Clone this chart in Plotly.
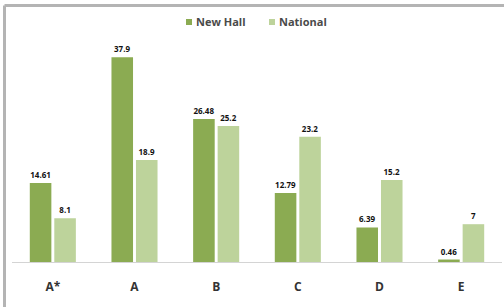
import plotly.graph_objects as go

categories = ["A*", "A", "B", "C", "D", "E"]
new_hall = [14.61, 37.9, 26.48, 12.79, 6.39, 0.46]
national = [8.1, 18.9, 25.2, 23.2, 15.2, 7]
series_names = ["New Hall", "National"]
series_colors = ["#8bab52", "#bdd39b"]

W, H = 504, 307
ml, mr, mt, mb = 12, 2, 46, 45
pw, ph = W - ml - mr, H - mt - mb

def px_x(p):
    return (p - ml) / pw

def px_y(p):
    return (H - mb - p) / ph

fig = go.Figure()
for name, vals, col in zip(series_names, [new_hall, national], series_colors):
    fig.add_trace(go.Bar(
        name=name, x=categories, y=vals,
        marker=dict(color=col, line=dict(width=0)),
        texttemplate="<b>%{y}</b>", textposition="outside",
        textfont=dict(size=8, color="#111111", family="Open Sans"),
        cliponaxis=False, showlegend=False,
    ))

fig.update_layout(
    width=W, height=H,
    margin=dict(l=ml, r=mr, t=mt, b=mb, pad=0, autoexpand=False),
    paper_bgcolor="white", plot_bgcolor="white",
    barmode="group", bargap=0.4, bargroupgap=0.12,
    showlegend=False,
    xaxis=dict(showline=True, linecolor="#d4d4d4", linewidth=1, showgrid=False,
               ticks="", ticklabelstandoff=14, automargin=False,
               tickfont=dict(size=12, color="#333333", family="Open Sans"),
               tickvals=categories, ticktext=["<b>%s</b>" % c for c in categories]),
    yaxis=dict(range=[0, 40], visible=False, showgrid=False, zeroline=False, automargin=False),
    uniformtext=dict(minsize=7, mode="show"),
)

# legend drawn as swatches + text
leg_x = [186, 269]
for lx, name, col in zip(leg_x, series_names, series_colors):
    fig.add_shape(type="rect", xref="paper", yref="paper",
                  x0=px_x(lx), x1=px_x(lx + 6), y0=px_y(25), y1=px_y(19),
                  fillcolor=col, line=dict(width=0))
    fig.add_annotation(xref="paper", yref="paper", x=px_x(lx + 8), y=px_y(22),
                       xanchor="left", yanchor="middle", showarrow=False,
                       text="<b>%s</b>" % name,
                       font=dict(size=11, color="#4a4a4a", family="Open Sans"))

# grey frame (left and top edges)
fig.add_shape(type="line", xref="paper", yref="paper",
              x0=px_x(4.5), x1=px_x(520), y0=px_y(5.5), y1=px_y(5.5),
              line=dict(color="#b4b4b4", width=3))
fig.add_shape(type="line", xref="paper", yref="paper",
              x0=px_x(4.5), x1=px_x(4.5), y0=px_y(5.5), y1=px_y(320),
              line=dict(color="#b4b4b4", width=3))

fig.write_html("out.html", config={"displayModeBar": False, "staticPlot": True},
               post_script="document.body.style.margin='0';document.body.style.overflow='hidden';")
